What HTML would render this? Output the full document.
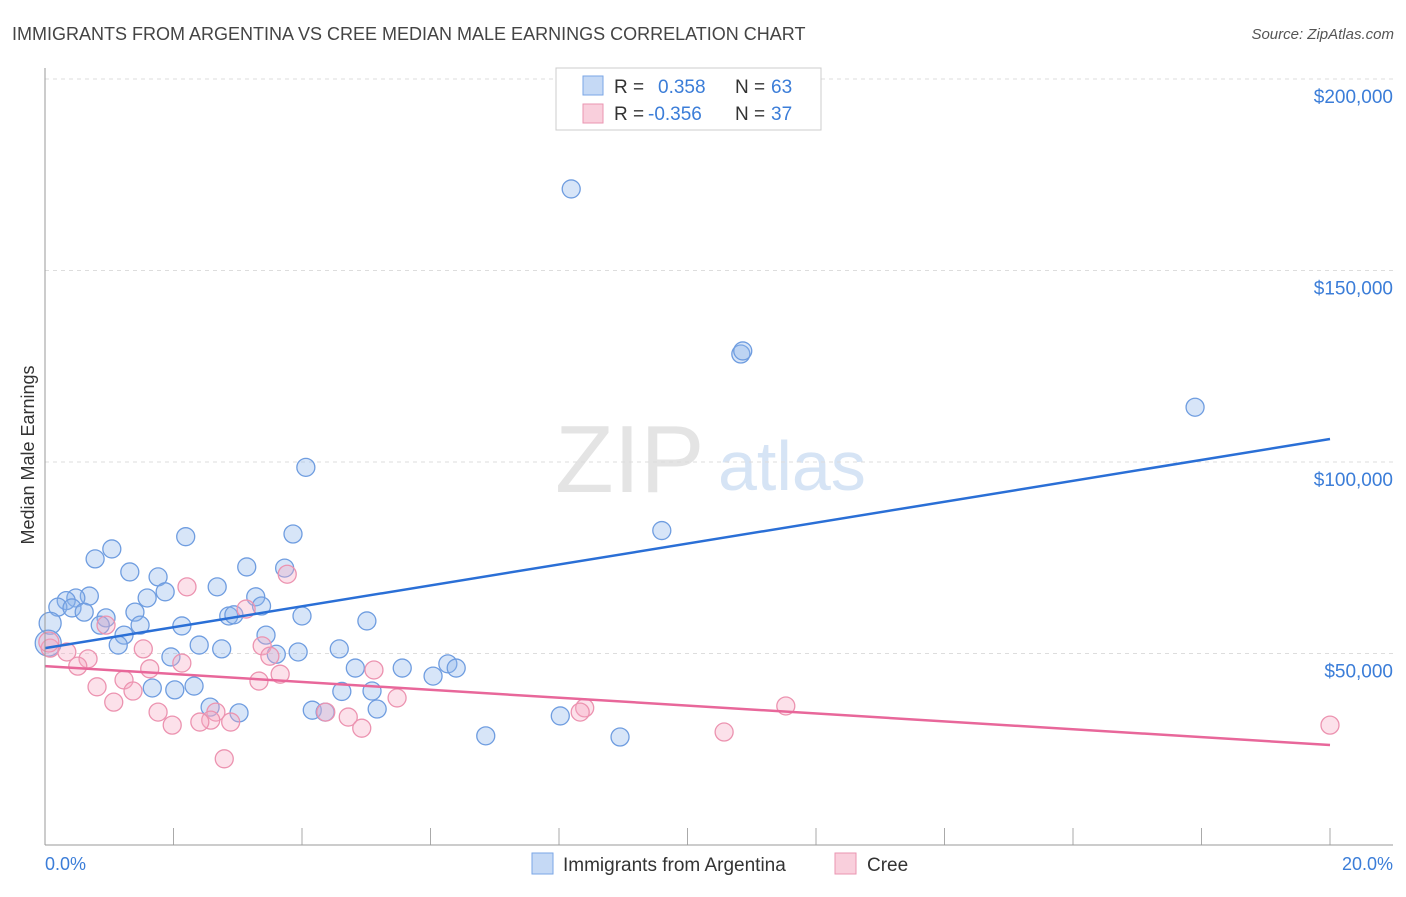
<!DOCTYPE html>
<html><head><meta charset="utf-8"><style>
body{margin:0;background:#fff;font-family:"Liberation Sans",sans-serif}
svg text{font-family:"Liberation Sans",sans-serif}
</style></head><body>
<svg id="c" width="1406" height="892" xmlns="http://www.w3.org/2000/svg">
<text x="12" y="40" font-size="18" fill="#444">IMMIGRANTS FROM ARGENTINA VS CREE MEDIAN MALE EARNINGS CORRELATION CHART</text>
<text x="1394" y="39" font-size="15" fill="#555" font-style="italic" text-anchor="end">Source: ZipAtlas.com</text>
<text transform="translate(34,455) rotate(-90)" font-size="18" fill="#333" text-anchor="middle">Median Male Earnings</text>
<text x="555" y="492" font-size="96" fill="#e4e4e4" font-family="Liberation Serif">ZIP</text>
<text x="718" y="490" font-size="70" fill="#d6e4f5">atlas</text>
<g id="grid"></g><g id="pts"></g><g id="trend"></g>
<line x1="45" y1="68" x2="45" y2="845" stroke="#999"/>
<line x1="45" y1="845" x2="1393" y2="845" stroke="#999"/>
<text x="45" y="870" font-size="18" fill="#3b7dd8">0.0%</text>
<text x="1393" y="870" font-size="18" fill="#3b7dd8" text-anchor="end">20.0%</text>
<g>
<rect x="556" y="68" width="265" height="62" fill="#fff" stroke="#ccc"/>
<rect x="583" y="76" width="20" height="19" fill="#c5d9f5" stroke="#7aa6e6"/>
<rect x="583" y="104" width="20" height="19" fill="#f9cfdc" stroke="#ea94b1"/>
<text x="614" y="93" font-size="19" fill="#333">R =</text><text x="658" y="93" font-size="19" fill="#3b7dd8">0.358</text>
<text x="735" y="93" font-size="19" fill="#333">N =</text><text x="771" y="93" font-size="19" fill="#3b7dd8">63</text>
<text x="614" y="120" font-size="19" fill="#333">R =</text><text x="648" y="120" font-size="19" fill="#3b7dd8">-0.356</text>
<text x="735" y="120" font-size="19" fill="#333">N =</text><text x="771" y="120" font-size="19" fill="#3b7dd8">37</text>
</g>
<g>
<rect x="532" y="853" width="21" height="21" fill="#c5d9f5" stroke="#7aa6e6"/>
<text x="563" y="871" font-size="19" fill="#333">Immigrants from Argentina</text>
<rect x="835" y="853" width="21" height="21" fill="#f9cfdc" stroke="#ea94b1"/>
<text x="867" y="871" font-size="19" fill="#333">Cree</text>
</g>
</svg>
<script>
const yTicks=[50000,100000,150000,200000];
const yTickLabels=["$50,000","$100,000","$150,000","$200,000"];
const xTicks=[0,2,4,6,8,10,12,14,16,18,20];
const blueX=[8.19,10.83,10.86,17.90,4.06,9.60,2.19,3.86,1.04,0.78,3.14,3.73,1.32,1.76,2.68,1.87,0.69,0.48,0.33,1.59,3.28,0.20,0.42,0.61,3.37,0.95,1.40,2.86,2.94,4.00,5.01,0.86,1.48,2.13,1.23,3.44,0.08,1.14,2.40,2.75,3.60,3.94,4.58,0.05,1.96,4.83,5.56,6.27,6.40,1.67,2.02,2.32,6.04,4.62,5.09,2.57,3.02,4.16,4.36,5.17,8.02,6.86,8.95];
const blueY=[171.3,128.2,129.0,114.3,98.6,82.1,80.5,81.2,77.3,74.7,72.6,72.3,71.3,70.0,67.4,66.1,65.0,64.5,63.8,64.5,64.8,62.1,61.9,60.8,62.4,59.3,60.8,59.8,60.1,59.8,58.5,57.4,57.4,57.2,54.8,54.8,57.9,52.2,52.2,51.2,49.8,50.4,51.2,52.7,49.1,46.2,46.2,47.3,46.2,41.0,40.5,41.5,44.1,40.1,40.2,36.0,34.5,35.2,34.7,35.5,33.7,28.5,28.2];
const blueR=[9,9,9,9,9,9,9,9,9,9,9,9,9,9,9,9,9,9,9,9,9,9,9,9,9,9,9,9,9,9,9,9,9,9,9,9,11,9,9,9,9,9,9,13,9,9,9,9,9,9,9,9,9,9,9,9,9,9,9,9,9,9,9];
const pinkX=[3.77,2.21,3.13,0.95,3.38,0.08,1.53,0.34,0.67,0.51,2.13,1.63,3.50,5.12,1.23,3.33,3.66,0.81,1.37,5.48,1.07,1.76,2.66,4.72,2.58,2.89,8.40,8.33,11.53,1.98,2.41,4.37,4.93,10.57,20.0,2.79,0.06];
const pinkY=[70.7,67.4,61.6,57.4,52.0,51.4,51.2,50.4,48.6,46.7,47.5,46.0,49.3,45.7,43.1,42.8,44.6,41.3,40.2,38.4,37.3,34.7,34.7,33.4,32.6,32.1,35.8,34.7,36.3,31.3,32.1,34.7,30.5,29.5,31.3,22.5,53.0];
const trendX=[0,20];
const blueTrend=[51.4,106.0];
const pinkTrend=[46.7,26.1];
const sx=v=>45+v/20*1285, sy=v=>845-v/50*191.5;
const NS="http://www.w3.org/2000/svg";
function mk(t,a,p){const e=document.createElementNS(NS,t);for(const k in a)e.setAttribute(k,a[k]);p.appendChild(e);return e;}
const grid=document.getElementById('grid');
yTicks.forEach((v,i)=>{const y=845-v/50000*191.5;
const l=mk('line',{x1:45,x2:1393,y1:y,y2:y,stroke:'#ddd','stroke-dasharray':'4,4'},grid);


const t=mk('text',{x:1393,y:y+24,'font-size':19,fill:'#3b7dd8','text-anchor':'end'},grid);t.textContent=yTickLabels[i];

});
xTicks.forEach(v=>{const x=sx(v);const l=mk('line',{x1:x,x2:x,y1:828,y2:845,stroke:'#aaa'},grid);

});
const pts=document.getElementById('pts');
blueX.forEach((v,i)=>{const c=mk('circle',{cx:sx(v),cy:sy(blueY[i]),r:blueR[i],fill:'rgba(140,180,235,0.35)',stroke:'#6f9de0','stroke-width':1.3},pts);

});
pinkX.forEach((v,i)=>{const c=mk('circle',{cx:sx(v),cy:sy(pinkY[i]),r:i==36?10:9,fill:'rgba(245,170,195,0.35)',stroke:'#ec93b0','stroke-width':1.3},pts);

});
const tr=document.getElementById('trend');
const b=mk('line',{x1:sx(trendX[0]),y1:sy(blueTrend[0]),x2:sx(trendX[1]),y2:sy(blueTrend[1]),stroke:'#2a6fd6','stroke-width':2.5},tr);


const p=mk('line',{x1:sx(trendX[0]),y1:sy(pinkTrend[0]),x2:sx(trendX[1]),y2:sy(pinkTrend[1]),stroke:'#e8679a','stroke-width':2.5},tr);


</script>
</body></html>
